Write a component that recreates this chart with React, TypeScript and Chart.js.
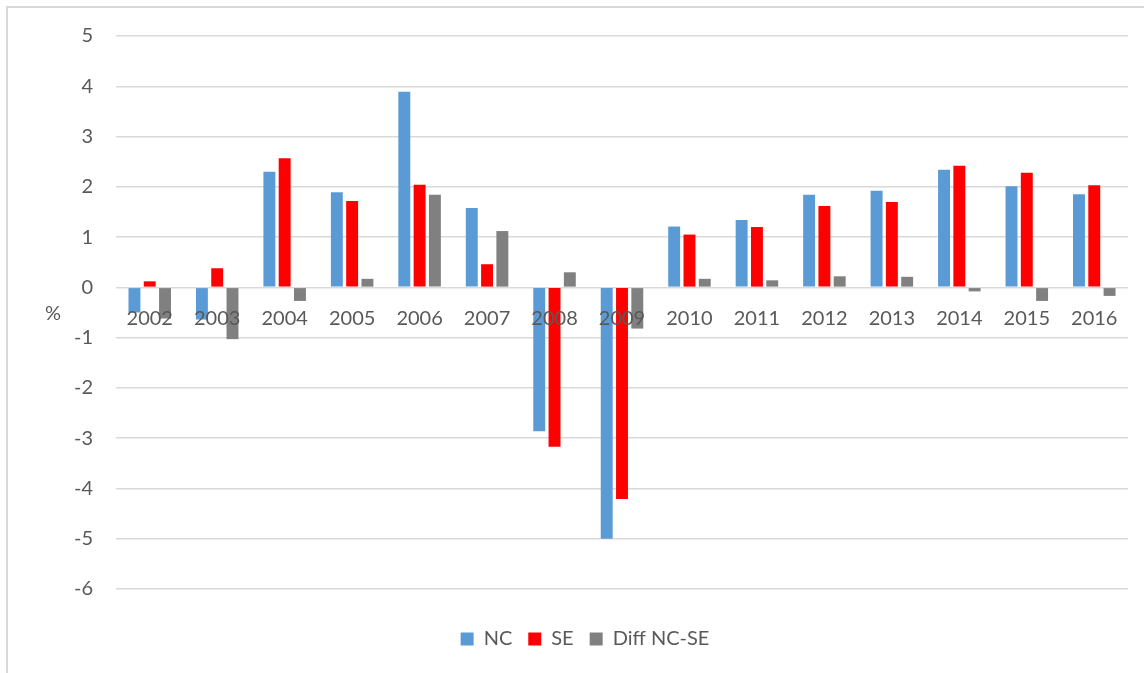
import React, { useEffect, useRef } from "react";
import { Chart, registerables } from "chart.js";

Chart.register(...registerables);

const years = ["2002", "2003", "2004", "2005", "2006", "2007", "2008", "2009", "2010", "2011", "2012", "2013", "2014", "2015", "2016"];
const ncValues = [-0.5, -0.64, 2.3, 1.89, 3.89, 1.58, -2.86, -5.0, 1.21, 1.34, 1.84, 1.92, 2.34, 2.01, 1.85];
const seValues = [0.12, 0.38, 2.57, 1.72, 2.04, 0.46, -3.17, -4.21, 1.05, 1.2, 1.62, 1.7, 2.42, 2.28, 2.03];
const diffValues = [-0.62, -1.03, -0.27, 0.17, 1.84, 1.12, 0.3, -0.82, 0.17, 0.14, 0.22, 0.21, -0.08, -0.27, -0.17];
const seriesNames = ["NC", "SE", "Diff NC-SE"];
const yMin = -6;
const yMax = 5;
const yUnit = "%";

const FONT = "Lato, 'Open Sans', sans-serif";
const TEXT = "#595959";

const unitPlugin = {
  id: "unitLabel",
  afterLayout(chart: any) {
    const lg = chart.legend;
    if (lg) {
      lg.top += 24;
      lg.bottom += 24;
      lg.left += 21;
      lg.right += 21;
    }
  },
  afterDraw(chart: any) {
    const { ctx, chartArea } = chart;
    ctx.save();
    ctx.font = `20px ${FONT}`;
    ctx.fillStyle = TEXT;
    ctx.textAlign = "center";
    ctx.textBaseline = "middle";
    ctx.fillText(yUnit, 53, (chartArea.top + chartArea.bottom) / 2 + 1);
    ctx.restore();
  },
};

export default function App() {
  const ref = useRef<HTMLCanvasElement>(null);
  useEffect(() => {
    if (!ref.current) return;
    const chart = new Chart(ref.current, {
      type: "bar",
      data: {
        labels: years,
        datasets: [
          { label: seriesNames[0], data: ncValues, backgroundColor: "#5B9BD5" },
          { label: seriesNames[1], data: seValues, backgroundColor: "#FF0000" },
          { label: seriesNames[2], data: diffValues, backgroundColor: "#808080" },
        ],
      },
      options: {
        animation: false,
        responsive: false,
        maintainAspectRatio: false,
        layout: { padding: { top: 36, left: 0, right: 16, bottom: 38 } },
        datasets: { bar: { categoryPercentage: 0.68, barPercentage: 0.78 } },
        plugins: {
          tooltip: { enabled: false },
          legend: {
            position: "bottom",
            labels: {
              boxWidth: 13,
              boxHeight: 13,
              padding: 16,
              color: TEXT,
              font: { family: FONT, size: 20 },
            },
          },
        },
        scales: {
          x: {
            position: { y: 0 } as any,
            grid: { display: false, drawTicks: false },
            border: { display: false },
            ticks: { z: 1, color: TEXT, font: { family: FONT, size: 20 }, padding: 19, maxRotation: 0, autoSkip: false },
          },
          y: {
            min: yMin,
            max: yMax,
            afterFit(scale: any) {
              scale.width = 116;
            },
            grid: { color: "#d9d9d9", lineWidth: 1.5, drawTicks: false },
            border: { display: false },
            ticks: { stepSize: 1, color: TEXT, font: { family: FONT, size: 20 }, padding: 23 },
          },
        },
      },
      plugins: [unitPlugin],
    });
    return () => chart.destroy();
  }, []);
  return (
    <div style={{ position: "fixed", left: 0, top: 0, width: 1144, height: 673, background: "#fff" }}>
      <div
        style={{
          position: "absolute",
          left: 6,
          top: 6,
          width: 1150,
          height: 680,
          border: "2px solid #d9d9d9",
          boxSizing: "border-box",
        }}
      />
      <canvas ref={ref} width={1144} height={673} style={{ position: "absolute", left: 0, top: 0 }} />
    </div>
  );
}
